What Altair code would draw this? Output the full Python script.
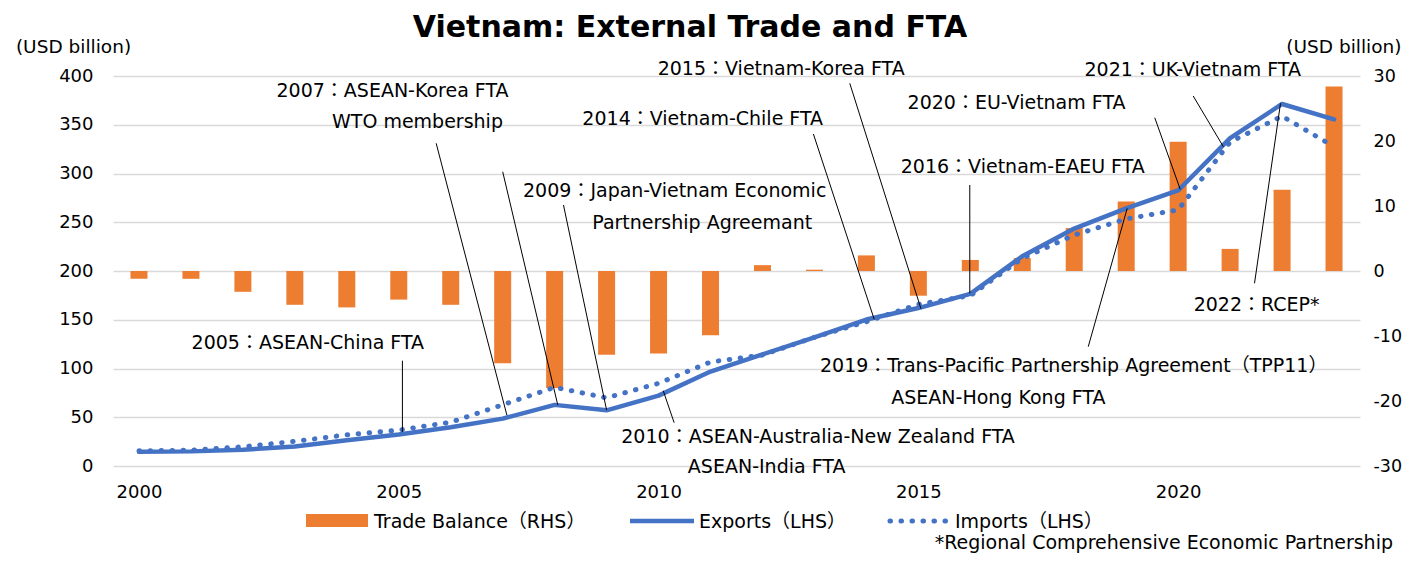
import altair as alt
import pandas as pd

# ---------------- data ----------------
years = list(range(2000, 2024))
exports = [14.5, 15.0, 16.7, 20.1, 26.5, 32.4, 39.8, 48.6, 62.7, 57.1, 72.2, 96.9,
           114.5, 132.0, 150.2, 162.0, 176.6, 215.1, 243.5, 264.3, 282.6, 336.2, 371.3, 355.5]
imports = [15.6, 16.2, 19.7, 25.3, 32.0, 36.8, 44.9, 62.8, 80.7, 69.9, 84.8, 106.7,
           113.8, 132.0, 148.0, 165.8, 174.8, 213.0, 236.9, 253.4, 262.7, 332.2, 358.8, 327.5]
balance = [-1.2, -1.2, -3.2, -5.2, -5.6, -4.4, -5.2, -14.2, -18.0, -12.9, -12.7, -9.9,
           0.9, 0.2, 2.4, -3.8, 1.7, 2.0, 6.6, 10.7, 19.9, 3.4, 12.5, 28.4]

tick_years = [2000, 2005, 2010, 2015, 2020]
left_ticks = [0, 50, 100, 150, 200, 250, 300, 350, 400]
right_ticks = [-30, -20, -10, 0, 10, 20, 30]

# annotation texts (centre position in year / left-axis value)
ann_text = [
    "2005：ASEAN-China FTA",
    "2007：ASEAN-Korea FTA",
    "WTO membership",
    "2009：Japan-Vietnam Economic",
    "Partnership Agreemant",
    "2010：ASEAN-Australia-New Zealand FTA",
    "ASEAN-India FTA",
    "2014：Vietnam-Chile FTA",
    "2015：Vietnam-Korea  FTA",
    "2016：Vietnam-EAEU FTA",
    "2019：Trans-Pacific Partnership Agreement（TPP11）",
    "ASEAN-Hong Kong FTA",
    "2020：EU-Vietnam FTA",
    "2021：UK-Vietnam FTA",
    "2022：RCEP*",
]
ann_x = [2003.25, 2004.88, 2005.36, 2010.31, 2010.84, 2013.07, 2012.08, 2010.85,
         2012.36, 2017.01, 2017.99, 2016.54, 2016.89, 2020.28, 2021.51]
ann_y = [125.8, 384.6, 352.8, 282.4, 249.5, 29.4, -1.3, 355.6,
         406.9, 306.7, 102.6, 70.1, 372.8, 406.2, 165.1]

# leader lines (start -> end, year / left-axis value)
lead_x = [2005.07, 2005.72, 2007.00, 2008.17, 2010.30, 2012.98, 2013.68, 2015.99,
          2018.27, 2019.55, 2020.29, 2021.47]
lead_y = [108.0, 331.0, 301.8, 267.7, 44.4, 340.5, 392.5, 288.2,
          122.4, 357.2, 379.5, 187.4]
lead_x2 = [2005.07, 2007.08, 2008.06, 2009.00, 2010.09, 2014.15, 2015.05, 2015.99,
           2019.02, 2020.04, 2020.87, 2021.97]
lead_y2 = [35.0, 52.3, 62.6, 57.4, 77.2, 150.5, 161.3, 177.1,
           264.3, 283.8, 327.5, 372.0]

# ---------------- styling ----------------
FONT = "DejaVu Sans, Noto Sans CJK JP"
ORANGE = "#ED7D31"
BLUE = "#4472C4"
W, H = 1247, 390

df = pd.DataFrame({"year": years, "exports": exports, "imports": imports, "balance": balance})
ann = pd.DataFrame({"t": ann_text, "ax": ann_x, "ay": ann_y})
lead = pd.DataFrame({"lx": lead_x, "ly": lead_y, "lx2": lead_x2, "ly2": lead_y2})

xscale = alt.Scale(domain=[1999.5, 2023.5], nice=False, zero=False, padding=0)
xaxis = alt.Axis(values=tick_years, format="d", ticks=False, domain=False, grid=False,
                 labelFontSize=18, labelPadding=17, labelFont=FONT, labelColor="#000",
                 labelFlush=False, title=None)

yl_scale = alt.Scale(domain=[0, 400], nice=False, zero=False, padding=0)
yl_axis = alt.Axis(orient="left", values=left_ticks, grid=True, gridColor="#d9d9d9",
                   gridWidth=1.3, domain=False, ticks=False, labelFontSize=18,
                   labelPadding=20, labelFont=FONT, labelColor="#000",
                   title="(USD billion)", titleAngle=0, titleX=-40, titleY=-30,
                   titleAlign="center", titleBaseline="middle", titleFont=FONT,
                   titleFontSize=18.5, titleFontWeight="normal", titleColor="#000")

yr_scale = alt.Scale(domain=[-30, 30], nice=False, padding=0)
yr_axis = alt.Axis(orient="right", values=right_ticks, grid=False, domain=False,
                   ticks=False, labelFontSize=17.5, labelPadding=13, labelFont=FONT,
                   labelColor="#000", labelExpr="'' + datum.value",
                   title="(USD billion)", titleAngle=0, titleX=41, titleY=-30,
                   titleAlign="right", titleBaseline="middle", titleFont=FONT,
                   titleFontSize=18.5, titleFontWeight="normal", titleColor="#000")

base = alt.Chart(df)

bars = base.mark_bar(size=17, color=ORANGE).encode(
    x=alt.X("year:Q", scale=xscale, axis=xaxis),
    y=alt.Y("balance:Q", scale=yr_scale, axis=yr_axis),
)

exp_line = base.mark_line(color=BLUE, strokeWidth=4.5, strokeCap="round", strokeJoin="round").encode(
    x=alt.X("year:Q", scale=xscale, axis=xaxis),
    y=alt.Y("exports:Q", scale=yl_scale, axis=yl_axis),
)

imp_line = base.mark_line(color=BLUE, strokeWidth=5, strokeCap="round",
                          strokeDash=[0.5, 10.5]).encode(
    x=alt.X("year:Q", scale=xscale, axis=xaxis),
    y=alt.Y("imports:Q", scale=yl_scale, axis=yl_axis),
)

leaders = alt.Chart(lead).mark_rule(color="#000", strokeWidth=1).encode(
    x=alt.X("lx:Q", scale=xscale, axis=xaxis),
    x2="lx2:Q",
    y=alt.Y("ly:Q", scale=yl_scale, axis=yl_axis),
    y2="ly2:Q",
)

texts = alt.Chart(ann).mark_text(align="center", baseline="middle", fontSize=19,
                                 font=FONT, color="#000").encode(
    x=alt.X("ax:Q", scale=xscale, axis=xaxis),
    y=alt.Y("ay:Q", scale=yl_scale, axis=yl_axis),
    text="t:N",
)

left_group = alt.layer(exp_line, imp_line, leaders, texts)

one = alt.Data(values=[{"a": 1}])

title = alt.Chart(one).mark_text(align="center", baseline="alphabetic", fontSize=30,
                                 fontWeight="bold", font=FONT, color="#000").encode(
    x=alt.value(577), y=alt.value(-39.5), text=alt.value("Vietnam: External Trade and FTA"))

leg_rect = alt.Chart(one).mark_rect(color=ORANGE).encode(
    x=alt.value(193), x2=alt.value(255), y=alt.value(438), y2=alt.value(451))
leg_t1 = alt.Chart(one).mark_text(align="left", baseline="middle", fontSize=19, font=FONT,
                                  color="#000").encode(
    x=alt.value(261), y=alt.value(446), text=alt.value("Trade Balance（RHS）"))
leg_l2 = alt.Chart(one).mark_rule(color=BLUE, strokeWidth=4.5).encode(
    x=alt.value(517), x2=alt.value(581), y=alt.value(445))
leg_t2 = alt.Chart(one).mark_text(align="left", baseline="middle", fontSize=19, font=FONT,
                                  color="#000").encode(
    x=alt.value(586), y=alt.value(446), text=alt.value("Exports（LHS）"))
leg_l3 = alt.Chart(one).mark_rule(color=BLUE, strokeWidth=5, strokeCap="round",
                                  strokeDash=[0.5, 10.5]).encode(
    x=alt.value(777), x2=alt.value(836), y=alt.value(445))
leg_t3 = alt.Chart(one).mark_text(align="left", baseline="middle", fontSize=19, font=FONT,
                                  color="#000").encode(
    x=alt.value(842), y=alt.value(446), text=alt.value("Imports（LHS）"))
foot = alt.Chart(one).mark_text(align="right", baseline="middle", fontSize=19, font=FONT,
                                color="#000").encode(
    x=alt.value(1280), y=alt.value(467),
    text=alt.value("*Regional Comprehensive  Economic Partnership"))

deco = alt.layer(title, leg_rect, leg_t1, leg_l2, leg_t2, leg_l3, leg_t3, foot)

chart = alt.layer(bars, left_group, deco).resolve_scale(y="independent").properties(
    width=W, height=H,
    autosize=alt.AutoSizeParams(type="none"),
    padding={"left": 105, "top": 68, "right": 45, "bottom": 88},
).configure_view(stroke=None)

chart.save("out.html", embed_options={"renderer": "svg", "actions": False})
